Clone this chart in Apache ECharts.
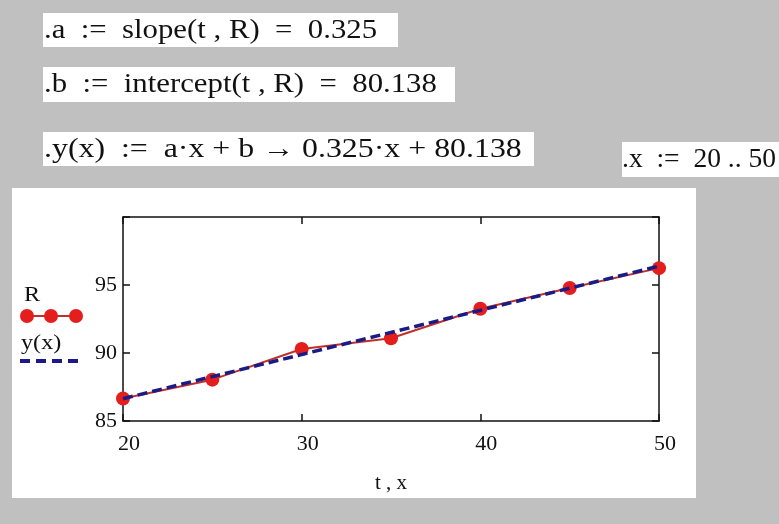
<!DOCTYPE html>
<html>
<head>
<meta charset="utf-8">
<script src="https://cdn.jsdelivr.net/npm/echarts@6/dist/echarts.min.js"></script>
<style>
html, body { margin: 0; padding: 0; background: #c0c0c0; }
#main { width: 779px; height: 524px; }
</style>
</head>
<body>
<div id="main"></div>
<script>
// measured values R(t)
var t = [20, 25, 30, 35, 40, 45, 50];
var R = [86.65, 88.04, 90.29, 91.09, 93.25, 94.78, 96.24];
// fitted line y(x) = 0.325x + 80.138, ends of range x := 20..50
var fitX = [20, 50];
var fitY = [86.638, 96.388];
var xTicks = [20, 30, 40, 50];
var yTicks = [85, 90, 95];
// formula lines above the plot
var lines = [
	'.a  :=  slope(t , R)  =  0.325',
	'.b  :=  intercept(t , R)  =  80.138',
	'.y(x)  :=  a\u00b7x + b \u2192 0.325\u00b7x + 80.138',
	'.x  :=  20 .. 50'
];

var serif = '"Liberation Serif", "DejaVu Serif", serif';

function pairs(xs, ys){
	var out = [];
	for(var i = 0; i < xs.length; i++){
		out.push([xs[i], ys[i]]);
	}
	return out;
}

function box(x, y, w, h){
	return { type: 'rect', z: -10, shape: { x: x, y: y, width: w, height: h }, style: { fill: '#fff' } };
}

function txt(s, x, y, size, sx){
	return {
		type: 'text', x: x, y: y, scaleX: sx || 1, z: 10,
		style: { text: s, fill: '#111', fontFamily: serif, fontSize: size, verticalAlign: 'middle' }
	};
}

var graphic = [
	box(43, 13, 355, 34),
	box(43, 67, 412, 35),
	box(43, 132, 491, 34),
	box(622, 142, 157, 35),
	box(12, 188, 684, 310),
	txt(lines[0], 44, 31, 27, 1.14),
	txt(lines[1], 44, 85, 27, 1.14),
	txt(lines[2], 44, 150, 27, 1.18),
	txt(lines[3], 622, 160, 27, 1.02),
	// legend
	txt('R', 24, 295, 22, 1.1),
	{ type: 'line', z: 10, shape: { x1: 27, y1: 316, x2: 76, y2: 316 }, style: { stroke: '#c0302a', lineWidth: 2 } },
	{ type: 'circle', z: 11, shape: { cx: 27, cy: 316, r: 7 }, style: { fill: '#e41d1d' } },
	{ type: 'circle', z: 11, shape: { cx: 51, cy: 316, r: 7 }, style: { fill: '#e41d1d' } },
	{ type: 'circle', z: 11, shape: { cx: 76, cy: 316, r: 7 }, style: { fill: '#e41d1d' } },
	txt('y(x)', 21, 343, 22, 1.1),
	{ type: 'line', z: 10, shape: { x1: 20, y1: 361, x2: 82, y2: 361 }, style: { stroke: '#1b1b85', lineWidth: 4, lineDash: [10, 6] } }
];

var chart = echarts.init(document.getElementById('main'));

var frameLine = { show: true, onZero: false, lineStyle: { color: '#111', width: 1.5 } };
var tickIn = { show: true, inside: true, length: 7, lineStyle: { color: '#111', width: 1.5 } };

var option = {
	backgroundColor: '#c0c0c0',
	animation: false,
	graphic: graphic,
	grid: { left: 123, right: 120, top: 217, bottom: 103, containLabel: false, outerBoundsMode: 'none' },
	xAxis: [
		{
			type: 'value', min: 20, max: 50, interval: 10, position: 'bottom',
			name: 't , x', nameLocation: 'middle', nameGap: 52,
			nameTextStyle: { fontFamily: serif, fontSize: 21, color: '#111' },
			axisLine: frameLine, axisTick: tickIn, splitLine: { show: false },
			axisLabel: {
				fontFamily: serif, fontSize: 22, color: '#111', margin: 12, padding: [0, 0, 0, 12],
				formatter: function(v){ return xTicks.indexOf(v) >= 0 ? String(v) : ''; }
			}
		},
		{
			type: 'value', min: 20, max: 50, interval: 10, position: 'top',
			axisLine: frameLine, axisTick: tickIn, splitLine: { show: false }, axisLabel: { show: false }
		}
	],
	yAxis: [
		{
			type: 'value', min: 85, max: 100, interval: 5, position: 'left',
			axisLine: frameLine, axisTick: tickIn, splitLine: { show: false },
			axisLabel: {
				fontFamily: serif, fontSize: 22, color: '#111', margin: 6,
				formatter: function(v){ return yTicks.indexOf(v) >= 0 ? String(v) : ''; }
			}
		},
		{
			type: 'value', min: 85, max: 100, interval: 5, position: 'right',
			axisLine: frameLine, axisTick: tickIn, splitLine: { show: false }, axisLabel: { show: false }
		}
	],
	series: [
		{
			name: 'R',
			type: 'line',
			data: pairs(t, R),
			symbol: 'circle',
			symbolSize: 14,
			z: 3,
			itemStyle: { color: '#e41d1d' },
			lineStyle: { color: '#c0302a', width: 2 }
		},
		{
			name: 'y(x)',
			type: 'line',
			data: pairs(fitX, fitY),
			showSymbol: false,
			z: 4,
			lineStyle: { color: '#1b1b85', width: 3.5, type: [10, 5] }
		}
	]
};

chart.setOption(option);
</script>
</body>
</html>
